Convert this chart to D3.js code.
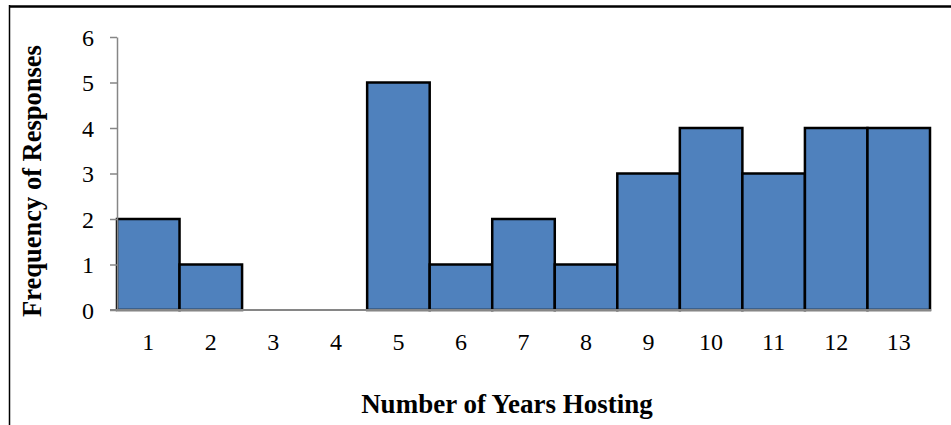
<!DOCTYPE html>
<html>
<head>
<meta charset="utf-8">
<script src="https://cdn.jsdelivr.net/npm/d3@7"></script>
<style>
  html, body { margin: 0; padding: 0; background: #fff; }
  svg { display: block; }
  text { font-family: "Liberation Serif", "Times New Roman", serif; fill: #000; }
</style>
</head>
<body>
<svg id="chart" width="951" height="425"></svg>
<script>
// Years of hosting (categories) and number of responses for each
const years = [1, 2, 3, 4, 5, 6, 7, 8, 9, 10, 11, 12, 13];
const responses = [2, 1, 0, 0, 5, 1, 2, 1, 3, 4, 3, 4, 4];
const yTicks = [0, 1, 2, 3, 4, 5, 6];
const xTitle = "Number of Years Hosting";
const yTitle = "Frequency of Responses";

const svg = d3.select("#chart");
const W = 951, H = 425;
const plot = { left: 117, right: 930, top: 37, bottom: 310 };
const serif = '"Liberation Serif", "Times New Roman", serif';

svg.append("rect").attr("width", W).attr("height", H).attr("fill", "#fff");

// outer frame (top and left edges)
svg.append("line").attr("x1", 9).attr("x2", W).attr("y1", 6.5).attr("y2", 6.5)
  .attr("stroke", "#000").attr("stroke-width", 2.5);
svg.append("line").attr("x1", 9.5).attr("x2", 9.5).attr("y1", 5).attr("y2", H)
  .attr("stroke", "#000").attr("stroke-width", 1.5);

const x = d3.scaleBand().domain(years).range([plot.left, plot.right]).padding(0);
const y = d3.scaleLinear().domain([0, 6]).range([plot.bottom, plot.top]);

const axisColor = "#868686";

// bars
svg.append("g").selectAll("rect")
  .data(years.map((yr, i) => ({ yr, v: responses[i] })).filter(d => d.v > 0))
  .join("rect")
  .attr("x", d => x(d.yr))
  .attr("y", d => y(d.v))
  .attr("width", x.bandwidth())
  .attr("height", d => y(0) - y(d.v))
  .attr("fill", "#4F81BD")
  .attr("stroke", "#000")
  .attr("stroke-width", 2.5);

// y axis
const yAxis = svg.append("g")
  .attr("transform", `translate(${plot.left},0)`)
  .call(d3.axisLeft(y).tickValues(yTicks).tickFormat(d3.format("d"))
    .tickSize(7).tickSizeOuter(0).tickPadding(16))
  .attr("font-family", serif).attr("font-size", 24);
yAxis.select(".domain").attr("stroke", axisColor).attr("stroke-width", 1.5);
yAxis.selectAll(".tick line").attr("stroke", axisColor).attr("stroke-width", 1.5);
yAxis.selectAll(".tick text").attr("fill", "#000").attr("dy", "0.35em");

// x axis
const xAxis = svg.append("g")
  .attr("transform", `translate(0,${plot.bottom})`)
  .call(d3.axisBottom(x).tickSize(0).tickSizeOuter(0).tickPadding(0))
  .attr("font-family", serif).attr("font-size", 24);
xAxis.select(".domain").remove();
xAxis.append("line")
  .attr("x1", plot.left - 7).attr("x2", plot.right + 1)
  .attr("y1", 0).attr("y2", 0)
  .attr("stroke", axisColor).attr("stroke-width", 2);
xAxis.selectAll(".tick text").attr("fill", "#000").attr("y", 40).attr("dy", 0);

// axis titles
svg.append("text")
  .attr("x", 507).attr("y", 413)
  .attr("text-anchor", "middle")
  .style("font-size", "27px").style("font-weight", "bold")
  .text(xTitle);

svg.append("text")
  .attr("transform", "translate(41,181) rotate(-90)")
  .attr("text-anchor", "middle")
  .style("font-size", "26.5px").style("font-weight", "bold")
  .text(yTitle);
</script>
</body>
</html>
